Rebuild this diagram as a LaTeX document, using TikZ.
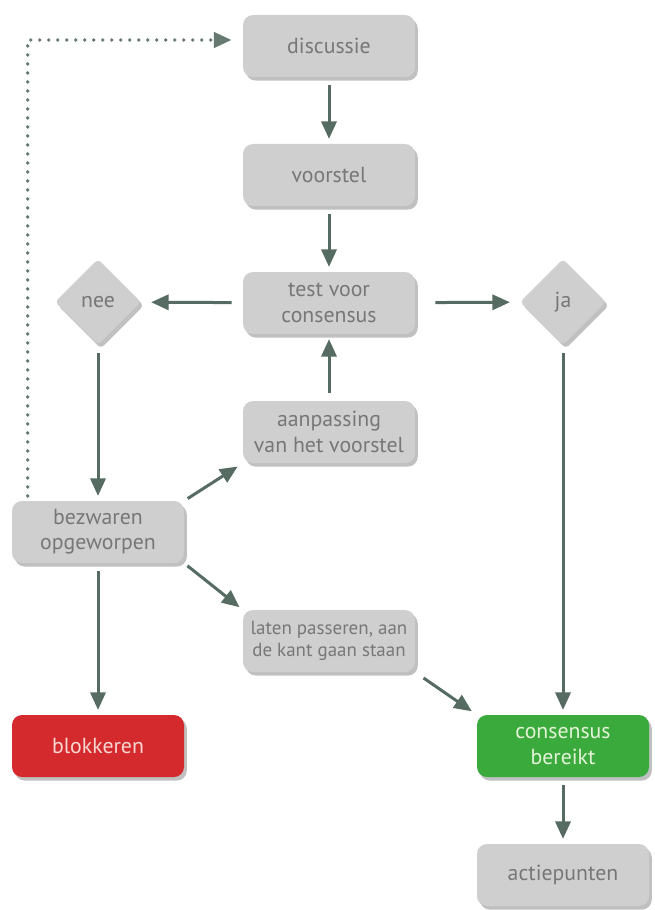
\documentclass[tikz,border=0pt]{standalone}
\usepackage{fontspec}
\setmainfont{PT Sans}
\usepackage{tikz}
\usetikzlibrary{arrows.meta,positioning,calc,shapes.geometric,shadows}
\definecolor{flowbox}{HTML}{CFCFCF}
\definecolor{flowtext}{HTML}{777777}
\definecolor{flowline}{HTML}{566B62}
\definecolor{flowred}{HTML}{D42A2E}
\definecolor{flowgreen}{HTML}{3BAA3C}
\definecolor{flowredtext}{HTML}{F8D6D2}
\definecolor{flowgreentext}{HTML}{E4F3D8}

\begin{document}
\begin{tikzpicture}[
  box/.style={rounded corners=2.5mm, fill=flowbox, text=flowtext,
              minimum width=43mm, minimum height=15.5mm, align=center,
              font=\fontsize{15.5}{18}\selectfont, inner sep=1mm,
              drop shadow={shadow xshift=0.7mm, shadow yshift=-0.9mm,
                           fill=black!45, opacity=0.55}},
  blockbox/.style={box, fill=flowred, text=flowredtext},
  okbox/.style={box, fill=flowgreen, text=flowgreentext},
  choice/.style={diamond, aspect=1, rounded corners=1mm, fill=flowbox,
                 text=flowtext, minimum size=21.5mm, inner sep=0pt,
                 font=\fontsize{15.5}{18}\selectfont,
                 drop shadow={shadow xshift=0.7mm, shadow yshift=-0.9mm,
                              fill=black!45, opacity=0.55}},
  arr/.style={-{Triangle[length=4.4mm,width=3.8mm]}, line width=0.75mm,
              draw=flowline, shorten <=2mm, shorten >=1.2mm},
  dotarr/.style={-{Triangle[length=4.4mm,width=3.8mm]}, line width=0.95mm,
                 draw=flowline!90, line cap=round,
                 dash pattern=on 0pt off 2.25mm, shorten >=2.8mm}
]
\useasboundingbox (0,0) rectangle (16.375,-22.75);

\node[box] (disc) at (8.225,-1.15) {discussie};
\node[box] (prop) at (8.225,-4.375) {voorstel};
\node[box] (test) at (8.225,-7.575) {test voor\\consensus};
\node[choice] (nee) at (2.45,-7.55) {nee};
\node[choice] (ja) at (14.075,-7.55) {ja};
\node[box] (adapt) at (8.225,-10.8) {aanpassing\\van het voorstel};
\node[box] (obj) at (2.45,-13.3) {bezwaren\\opgeworpen};
\node[box, font=\fontsize{13.5}{15.5}\selectfont] (pass) at (8.225,-16.025)
  {laten passeren, aan\\de kant gaan staan};
\node[blockbox] (block) at (2.45,-18.65) {blokkeren};
\node[okbox] (cons) at (14.075,-18.65) {consensus\\bereikt};
\node[box] (todo) at (14.075,-21.875) {actiepunten};

\draw[arr] (disc)--(prop);
\draw[arr] (prop)--(test);
\draw[arr, shorten <=2.8mm, shorten >=2.5mm] (test)--(nee);
\draw[arr, shorten <=5mm, shorten >=2.5mm] (test)--(ja);
\draw[arr] (adapt)--(test);
\draw[arr] (nee)--(obj);
\draw[arr, shorten <=1mm, shorten >=1.5mm] (obj.north east)--(adapt.south west);
\draw[arr, shorten <=1mm, shorten >=1mm] (obj.south east)--(pass.north west);
\draw[arr] (obj)--(block);
\draw[arr, shorten <=2.5mm, shorten >=1.5mm] (pass.south east)--(cons.north west);
\draw[arr] (ja)--(cons);
\draw[arr] (cons)--(todo);

% way back to the discussion
\coordinate (back) at ($(obj.north west)+(0.4,0.12)$);
\draw[dotarr] (back) |- ([yshift=1.5mm]disc.west);
\end{tikzpicture}
\end{document}
